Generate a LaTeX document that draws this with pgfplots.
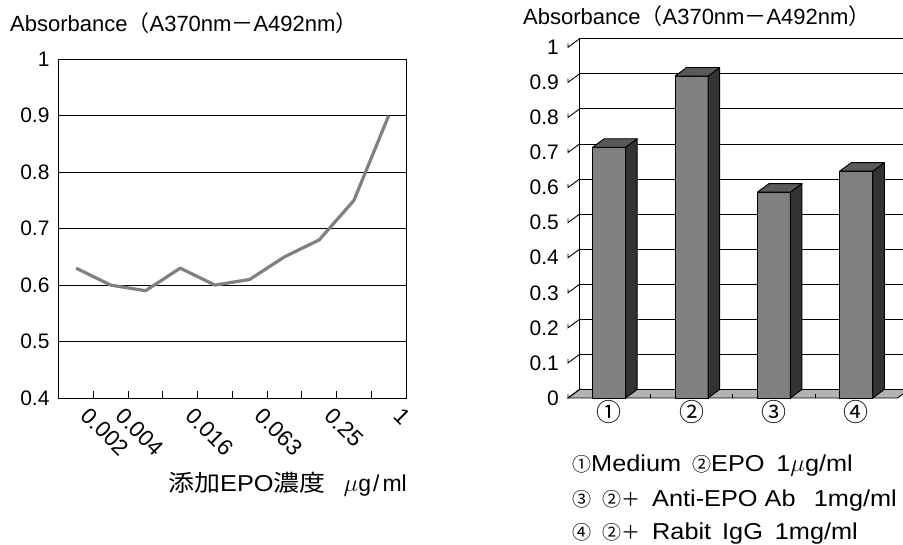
\documentclass[border=0pt]{standalone}
\usepackage{pgfplots}
\pgfplotsset{compat=1.18}
\usepackage{pgfplotstable}
\usepackage{fontspec}
\setmainfont{Liberation Sans}
\newfontfamily\jp{Noto Sans CJK JP}
\newfontfamily\jpw{Noto Sans CJK JP}[FakeStretch=1.13]
\newfontfamily\lsw{Liberation Sans}[FakeStretch=1.1]
\definecolor{linegray}{HTML}{808080}
\definecolor{barfront}{HTML}{808080}
\definecolor{barside}{HTML}{333333}
\definecolor{bartop}{HTML}{595959}
\definecolor{floorgray}{HTML}{B3B3B3}

\pgfplotstableread{
x y
1 0.63
2 0.60
3 0.59
4 0.63
5 0.60
6 0.61
7 0.65
8 0.68
9 0.75
10 0.90
}\linedata

\pgfplotstableread{
x y
1 0.715
2 0.918
3 0.587
4 0.647
}\bardata

\begin{document}
\fontsize{21pt}{25pt}\selectfont
\begin{tikzpicture}[x=1pt,y=1pt]
\useasboundingbox (0,0) rectangle (903,545);
% ---------------- left chart ----------------
\node[anchor=base west,inner sep=0pt,font=\fontsize{22pt}{26pt}\selectfont] at (10,513.3) {Absorbance{\jp（}A370nm{\jp－}A492nm{\jp）}};
\begin{axis}[
  at={(58.7pt,147pt)}, anchor=south west,
  width=347.3pt, height=338.7pt, scale only axis,
  xmin=0.5, xmax=10.5, ymin=0.4, ymax=1,
  ytick={0.4,0.5,0.6,0.7,0.8,0.9,1},
  yticklabels={0.4,0.5,0.6,0.7,0.8,0.9,1},
  ytick style={draw=none},
  ymajorgrids, grid style={black, line width=0.9pt},
  axis line style={black, line width=0.9pt},
  xtick={1,2,4,6,8,10},
  xticklabels={0.002,0.004,0.016,0.063,0.25,1},
  major x tick style={draw=none},
  minor xtick={0.5,1.5,2.5,3.5,4.5,5.5,6.5,7.5,8.5,9.5,10.5},
  minor x tick style={black, line width=0.9pt},
  minor tick length=7pt, tick align=inside, xtick pos=bottom, ytick pos=left,
  tick label style={font=\fontsize{21pt}{25pt}\selectfont},
  xticklabel style={xshift=15pt, yshift=-8pt, rotate=-45, anchor=north west, inner sep=0pt, font=\fontsize{22.5pt}{26pt}\selectfont},
  yticklabel style={anchor=east, inner sep=0pt, xshift=-9pt},
]
\addplot[linegray, line width=3.2pt, line join=round] table {\linedata};
\end{axis}
\node[anchor=base west,inner sep=0pt,font=\fontsize{23pt}{27pt}\selectfont] at (168,53) {{\jpw 添加}{\lsw EPO}{\jpw 濃度}};
\node[anchor=base east,inner sep=0pt,font=\fontsize{23pt}{27pt}\selectfont] at (407,53) {$\mu$g\kern2pt/\kern3pt ml};
% ---------------- right chart ----------------
\node[anchor=base west,inner sep=0pt,font=\fontsize{22pt}{26pt}\selectfont] at (523,520) {Absorbance{\jp（}A370nm{\jp－}A492nm{\jp）}};
% back wall
\begin{axis}[
  at={(579.5pt,155.5pt)}, anchor=south west,
  width=329.5pt, height=350.7pt, scale only axis,
  xmin=0.5, xmax=4.5, ymin=0, ymax=1,
  ytick={0,0.1,0.2,0.3,0.4,0.5,0.6,0.7,0.8,0.9,1},
  yticklabels={}, xtick=\empty, ytick style={draw=none},
  ymajorgrids, grid style={black, line width=0.9pt},
  axis line style={black, line width=0.9pt},
  clip=false,
]
\filldraw[fill=floorgray, draw=black, line width=0.9pt]
  (axis cs:0.5,0) -- (axis cs:4.5,0) -- ([shift={(-11.5pt,-8.5pt)}]axis cs:4.5,0)
  -- ([shift={(-11.5pt,-8.5pt)}]axis cs:0.5,0) -- cycle;
\pgfplotsinvokeforeach{0,0.1,0.2,0.3,0.4,0.5,0.6,0.7,0.8,0.9,1}{
  \draw[black, line width=0.9pt] (axis cs:0.5,#1) -- ++(-11.5pt,-8.5pt) -- ++(0pt,4pt);
}
\end{axis}
% front (bars)
\begin{axis}[
  at={(568pt,147pt)}, anchor=south west,
  width=329.5pt, height=350.7pt, scale only axis,
  xmin=0.5, xmax=4.5, ymin=0, ymax=1,
  axis line style={draw=none},
  ytick={0,0.1,0.2,0.3,0.4,0.5,0.6,0.7,0.8,0.9,1},
  yticklabels={0,0.1,0.2,0.3,0.4,0.5,0.6,0.7,0.8,0.9,1},
  ytick style={draw=none},
  xtick={1,2,3,4}, xticklabels={①,②,③,④},
  major x tick style={draw=none},
  minor xtick={1.5,2.5,3.5},
  minor x tick style={black, line width=0.9pt},
  minor tick length=4pt, tick align=inside, xtick pos=bottom, ytick pos=left,
  tick label style={font=\fontsize{21pt}{25pt}\selectfont},
  xticklabel style={anchor=north, inner sep=0pt, yshift=-2pt, font=\fontsize{25pt}{28pt}\selectfont\jp},
  yticklabel style={anchor=east, inner sep=0pt, xshift=-9pt},
  clip=false,
]
\addplot[ybar, bar width=33pt, fill=barfront, draw=black, line width=0.9pt] table {\bardata};
\addplot[scatter, only marks, mark=*, mark size=0.01pt,
  visualization depends on={rawy \as \rawy},
  scatter/@pre marker code/.code={%
    \pgfmathsetmacro\hh{\rawy*350.7}%
    \pgfmathsetmacro\hb{8.5-\hh}%
    \filldraw[fill=barside, draw=black, line width=0.9pt, line join=round]
      (16.5pt,0pt) -- (28pt,8.5pt) -- (28pt,\hb pt) -- (16.5pt,-\hh pt) -- cycle;
    \filldraw[fill=bartop, draw=black, line width=0.9pt, line join=round]
      (-16.5pt,0pt) -- (16.5pt,0pt) -- (28pt,8.5pt) -- (-5pt,8.5pt) -- cycle;
    \begin{scope}
  },
  scatter/@post marker code/.code={\end{scope}},
] table {\bardata};
\end{axis}
% legend text
\begin{scope}[font=\fontsize{23pt}{27pt}\selectfont\lsw, every node/.style={inner sep=0pt}]
\node[anchor=base west] at (572,73) {{\fontsize{19pt}{22pt}\selectfont\jp ①}Medium};
\node[anchor=base west] at (692,73) {{\fontsize{19pt}{22pt}\selectfont\jp ②}EPO};
\node[anchor=base east] at (853,73) {1$\mu$g/ml};
\node[anchor=base west] at (572,38) {{\fontsize{19pt}{22pt}\selectfont\jp ③}};
\node[anchor=base west] at (602,38) {{\fontsize{19pt}{22pt}\selectfont\jp ②＋}};
\node[anchor=base west] at (652,38) {Anti-EPO Ab};
\node[anchor=base east] at (897,38) {1mg/ml};
\node[anchor=base west] at (572,5) {{\fontsize{19pt}{22pt}\selectfont\jp ④}};
\node[anchor=base west] at (602,5) {{\fontsize{19pt}{22pt}\selectfont\jp ②＋}};
\node[anchor=base west] at (652,5) {Rabit};
\node[anchor=base west] at (722,5) {IgG};
\node[anchor=base east] at (858,5) {1mg/ml};
\end{scope}
\end{tikzpicture}
\end{document}
